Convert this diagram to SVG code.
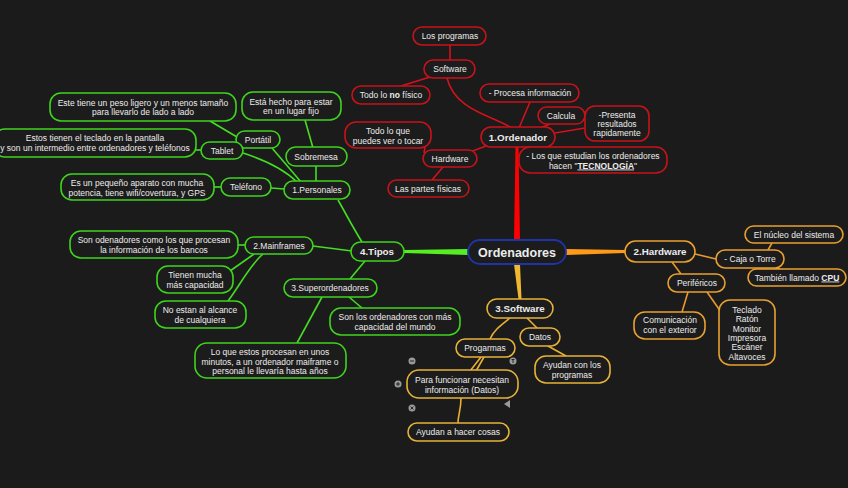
<svg xmlns="http://www.w3.org/2000/svg" width="848" height="488" viewBox="0 0 848 488">
<style>
.t{font-family:"Liberation Sans",Arial,sans-serif;font-size:8.5px;fill:#ececec;text-anchor:middle}
.b{font-weight:bold}
.m{font-size:9.8px;font-weight:bold}
.n{fill:#1c1c1c;stroke-width:1.6}
.r{stroke:#c8121a}
.g{stroke:#3ed41e}
.o{stroke:#e8a030}
.y{stroke:#e6b23a}
.cr{fill:none;stroke:#d3121a;stroke-width:1.6}
.cg{fill:none;stroke:#44dd22;stroke-width:1.6}
.co{fill:none;stroke:#e89a2c;stroke-width:1.6}
.cy{fill:none;stroke:#e8b030;stroke-width:1.6}
.ic{fill:#9a9a9a}
</style>
<rect width="848" height="488" fill="#1b1b1b"/>
<g id="connectors">
<polygon points="514,241 520,241 518.5,147 515.5,147" fill="#ff0000"/>
<polygon points="468,249 468,255 404,253 404,250" fill="#55ee22"/>
<polygon points="566,249 566,255 625,253 625,250" fill="#ff9a18"/>
<polygon points="514,264 520,264 521.5,299 518.5,299" fill="#f0b830"/>
<path class="cr" d="M450,45 V60"/>
<path class="cr" d="M447,78 C455,110 490,115 512,128"/>
<path class="cr" d="M430,77 L401,86"/>
<path class="cr" d="M519,128 L530,102"/>
<path class="cr" d="M540,128 L550,124"/>
<path class="cr" d="M555,133 L585,128"/>
<path class="cr" d="M486,146 L470,152"/>
<path class="cr" d="M424,153 L425,147"/>
<path class="cr" d="M443,167 L432,180"/>
<path class="co" d="M695,254 L716,259"/>
<path class="co" d="M768,250 L772,243"/>
<path class="co" d="M776,268 L782,270"/>
<path class="co" d="M672,262 L681,274"/>
<path class="co" d="M688,292 L682,312"/>
<path class="co" d="M707,292 L721,312"/>
<path class="cy" d="M510,318 C500,326 494,330 490,339"/>
<path class="cy" d="M527,318 L537,328"/>
<path class="cy" d="M548,346 L566,356"/>
<path class="cy" d="M481,357 L470,371 M484,357 L476,371"/>
<path class="cy" d="M461,398 C461,410 458,415 458,423"/>
<path class="cg" d="M362,242 C352,226 345,212 338,200"/>
<path class="cg" d="M284,189 L271,188"/>
<path class="cg" d="M222,187 L214,187"/>
<path class="cg" d="M316,166 V182"/>
<path class="cg" d="M313,148 L305,120"/>
<path class="cg" d="M301,182 L272,148"/>
<path class="cg" d="M243,153 C265,160 285,170 297,182"/>
<path class="cg" d="M237,137 L210,121"/>
<path class="cg" d="M201,150 L196,150"/>
<path class="cg" d="M352,251 L313,246"/>
<path class="cg" d="M245,245 L238,245"/>
<path class="cg" d="M254,254 L230,271"/>
<path class="cg" d="M263,254 C250,265 240,285 228,301"/>
<path class="cg" d="M365,261 L350,279"/>
<path class="cg" d="M349,297 L362,308"/>
<path class="cg" d="M322,297 L297,343"/>
</g>
<g id="center"><rect x="468" y="240" width="98" height="24" rx="12" fill="#1c1c1c" stroke="#1f34a8" stroke-width="1.8"/><text class="t b" x="517" y="256.5" style="font-size:12.5px">Ordenadores</text></g>
<g id="n-ordenador"><rect class="n r" x="481" y="127" width="74" height="20" rx="10"/><text class="t m" x="518" y="140.5">1.Ordenador</text></g>
<g id="n-software1"><rect class="n r" x="424" y="60" width="51" height="18" rx="9"/><text class="t" x="450" y="72">Software</text></g>
<g id="n-losprogramas"><rect class="n r" x="413" y="27" width="73" height="18" rx="9"/><text class="t" x="450" y="39">Los programas</text></g>
<g id="n-nofisico"><rect class="n r" x="352" y="86" width="78" height="18" rx="9"/><text class="t" x="391" y="98">Todo lo <tspan class="b">no</tspan> físico</text></g>
<g id="n-procesa"><rect class="n r" x="480" y="84" width="99" height="18" rx="9"/><text class="t" x="530" y="96">- Procesa información</text></g>
<g id="n-calcula"><rect class="n r" x="538" y="107" width="47" height="17" rx="8.5"/><text class="t" x="561" y="118.5">Calcula</text></g>
<g id="n-presenta"><rect class="n r" x="585" y="106" width="64" height="35" rx="10"/><text class="t" x="617" y="118">-Presenta</text><text class="t" x="617" y="127">resultados</text><text class="t" x="617" y="136">rapidamente</text></g>
<g id="n-estudian"><rect class="n r" x="519" y="147" width="148" height="26" rx="11"/><text class="t" x="593" y="159">- Los que estudian los ordenadores</text><text class="t" x="593" y="168.5">hacen "<tspan class="b" text-decoration="underline">TECNOLOGÍA</tspan>"</text></g>
<g id="n-hardware1"><rect class="n r" x="423" y="150" width="54" height="17" rx="8.5"/><text class="t" x="450" y="161.5">Hardware</text></g>
<g id="n-tocar"><rect class="n r" x="345" y="122" width="86" height="26" rx="11"/><text class="t" x="388" y="134">Todo lo que</text><text class="t" x="388" y="143.5">puedes ver o tocar</text></g>
<g id="n-partes"><rect class="n r" x="388" y="180" width="81" height="17" rx="8.5"/><text class="t" x="428" y="191.5">Las partes físicas</text></g>
<g id="n-hardware2"><rect class="n o" x="625" y="241" width="70" height="21" rx="10.5"/><text class="t m" x="660" y="255">2.Hardware</text></g>
<g id="n-caja"><rect class="n o" x="716" y="250" width="68" height="18" rx="9"/><text class="t" x="750" y="262">- Caja o Torre</text></g>
<g id="n-nucleo"><rect class="n o" x="745" y="226" width="98" height="17" rx="8.5"/><text class="t" x="794" y="237.5">El núcleo del sistema</text></g>
<g id="n-cpu"><rect class="n o" x="748" y="269" width="98" height="17" rx="8.5"/><text class="t" x="797" y="280.5">También llamado <tspan class="b" text-decoration="underline">CPU</tspan></text></g>
<g id="n-perifericos"><rect class="n o" x="668" y="274" width="57" height="18" rx="9"/><text class="t" x="697" y="286">Periféricos</text></g>
<g id="n-comunicacion"><rect class="n o" x="634" y="312" width="71" height="27" rx="11"/><text class="t" x="670" y="323">Comunicación</text><text class="t" x="670" y="333">con el exterior</text></g>
<g id="n-teclado"><rect class="n o" x="719" y="300" width="56" height="65" rx="11"/><text class="t" x="747" y="313">Teclado</text><text class="t" x="747" y="322">Ratón</text><text class="t" x="747" y="332">Monitor</text><text class="t" x="747" y="341">Impresora</text><text class="t" x="747" y="350">Escáner</text><text class="t" x="747" y="360">Altavoces</text></g>
<g id="n-software3"><rect class="n y" x="487" y="299" width="66" height="19" rx="9.5"/><text class="t m" x="520" y="312">3.Software</text></g>
<g id="n-datos"><rect class="n y" x="520" y="328" width="40" height="18" rx="9"/><text class="t" x="540" y="340">Datos</text></g>
<g id="n-ayudanprog"><rect class="n y" x="535" y="356" width="75" height="27" rx="11"/><text class="t" x="572" y="368">Ayudan con los</text><text class="t" x="572" y="378">programas</text></g>
<g id="n-progarmas"><rect class="n y" x="456" y="339" width="59" height="18" rx="9"/><text class="t" x="485" y="351">Progarmas</text></g>
<g id="n-funcionar"><rect class="n y" x="407" y="370" width="111" height="28" rx="12"/><text class="t" x="462" y="383">Para funcionar necesitan</text><text class="t" x="462" y="393">información (Datos)</text></g>
<g id="n-hacercosas"><rect class="n y" x="408" y="423" width="101" height="18" rx="9"/><text class="t" x="458" y="435">Ayudan a hacer cosas</text></g>
<g id="icons">
<circle class="ic" cx="412" cy="361" r="3.5"/><circle class="ic" cx="398" cy="384" r="3.5"/><circle class="ic" cx="412" cy="408" r="3.5"/><circle class="ic" cx="513" cy="361" r="3.5"/>
<path d="M410,361 h4 M398,382 v4 M396,384 h4 M410.5,406.5 l3,3 M413.5,406.5 l-3,3 M511.5,359.5 h3 M513,359.5 v3.5" stroke="#1b1b1b" stroke-width="0.9" fill="none"/>
<polygon class="ic" points="510,400 510,408 504,404"/>
</g>
<g id="n-tipos"><rect class="n g" x="351" y="242" width="53" height="19" rx="9.5"/><text class="t m" x="377" y="255">4.Tipos</text></g>
<g id="n-personales"><rect class="n g" x="284" y="181" width="66" height="18" rx="9"/><text class="t" x="317" y="193">1.Personales</text></g>
<g id="n-telefono"><rect class="n g" x="221" y="178" width="50" height="18" rx="9"/><text class="t" x="246" y="190">Teléfono</text></g>
<g id="n-pequeno"><rect class="n g" x="61" y="174" width="153" height="26" rx="11"/><text class="t" x="137" y="186">Es un pequeño aparato con mucha</text><text class="t" x="137" y="195.5">potencia, tiene wifi/covertura, y GPS</text></g>
<g id="n-sobremesa"><rect class="n g" x="286" y="147" width="61" height="19" rx="9.5"/><text class="t" x="316" y="159.5">Sobremesa</text></g>
<g id="n-fijo"><rect class="n g" x="242" y="92" width="99" height="28" rx="11"/><text class="t" x="291" y="104.5">Está hecho para estar</text><text class="t" x="291" y="114">en un lugar fijo</text></g>
<g id="n-portatil"><rect class="n g" x="236" y="131" width="44" height="17" rx="8.5"/><text class="t" x="258" y="142.5">Portátil</text></g>
<g id="n-ligero"><rect class="n g" x="50" y="93" width="186" height="28" rx="11"/><text class="t" x="143" y="105.5">Este tiene un peso ligero y un menos tamaño</text><text class="t" x="143" y="115">para llevarlo de lado a lado</text></g>
<g id="n-tablet"><rect class="n g" x="201" y="142" width="42" height="17" rx="8.5"/><text class="t" x="222" y="153.5">Tablet</text></g>
<g id="n-teclado-pantalla"><rect class="n g" x="-6" y="129" width="202" height="28" rx="11"/><text class="t" x="95" y="141">Estos tienen el teclado en la pantalla</text><text class="t" x="95" y="150.5">y son un intermedio entre ordenadores y teléfonos</text></g>
<g id="n-mainframes"><rect class="n g" x="245" y="237" width="68" height="17" rx="8.5"/><text class="t" x="279" y="248.5">2.Mainframes</text></g>
<g id="n-bancos"><rect class="n g" x="70" y="231" width="168" height="27" rx="11"/><text class="t" x="154" y="243">Son odenadores como los que procesan</text><text class="t" x="154" y="252.5">la información de los bancos</text></g>
<g id="n-capacidad"><rect class="n g" x="157" y="266" width="76" height="27" rx="11"/><text class="t" x="195" y="278">Tienen mucha</text><text class="t" x="195" y="288">más capacidad</text></g>
<g id="n-alcance"><rect class="n g" x="155" y="301" width="91" height="27" rx="11"/><text class="t" x="200" y="313">No estan al alcance</text><text class="t" x="200" y="323">de cualquiera</text></g>
<g id="n-super"><rect class="n g" x="284" y="279" width="93" height="18" rx="9"/><text class="t" x="330" y="291">3.Superordenadores</text></g>
<g id="n-mundo"><rect class="n g" x="330" y="308" width="130" height="27" rx="11"/><text class="t" x="395" y="320">Son los ordenadores con más</text><text class="t" x="395" y="330">capacidad del mundo</text></g>
<g id="n-minutos"><rect class="n g" x="195" y="343" width="151" height="35" rx="12"/><text class="t" x="270" y="355">Lo que estos procesan en unos</text><text class="t" x="270" y="364.5">minutos, a un ordenador maiframe o</text><text class="t" x="270" y="374">personal le llevaría hasta años</text></g>
</svg>
